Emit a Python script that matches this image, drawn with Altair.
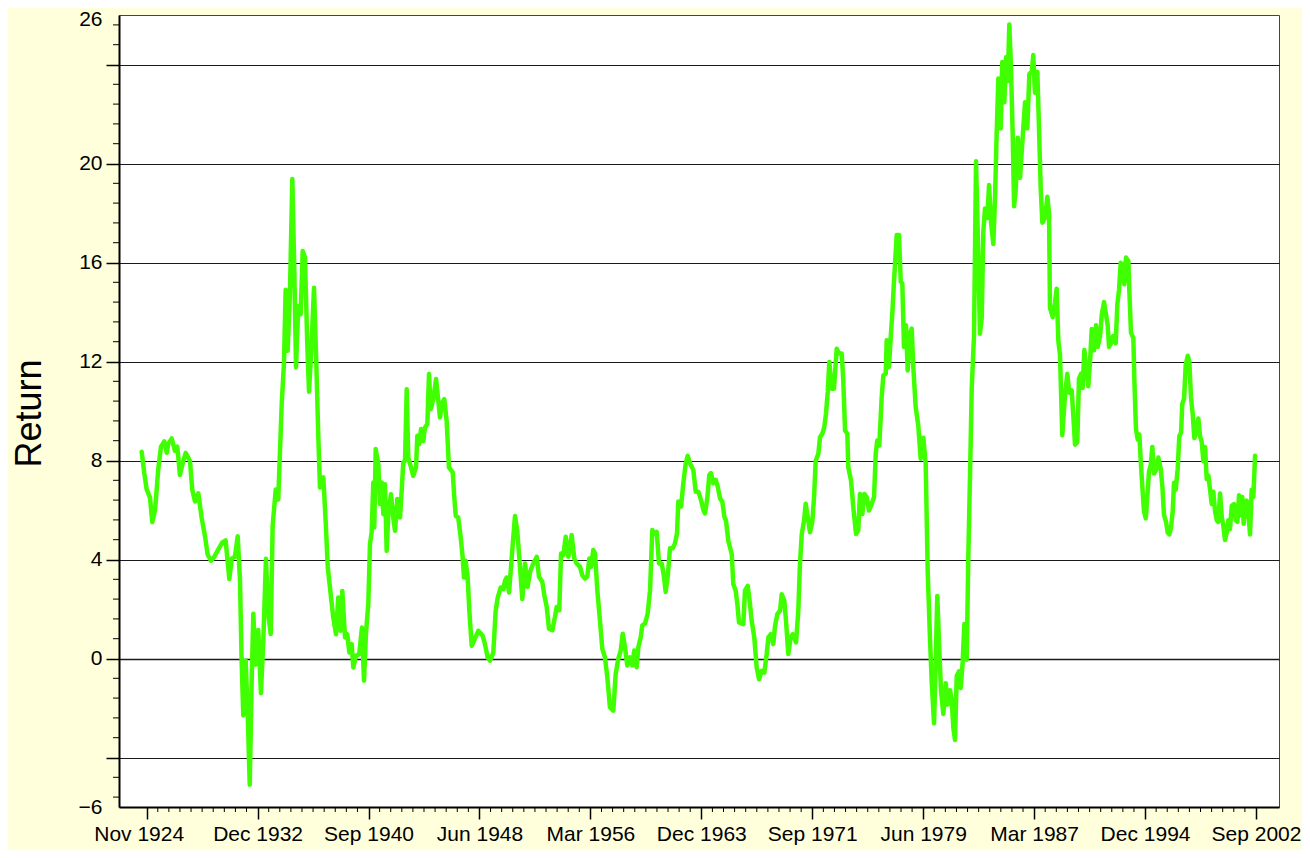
import altair as alt
import pandas as pd

# month offsets from the first labelled tick (Nov 1924 = 0), and return values
months = [
    -4.2, -2.0, 0, 2.8, 4.7, 7.0, 8.4, 9.7, 12.0, 14.8, 16.8, 18.1, 21.0, 23.7, 25.7, 27.9, 29.8, 32.7, 36.3, 38.2,
    40.5, 43.3, 46.1, 48.9, 51.1, 53.9, 56.7, 59.5, 63.4, 66.2, 69.3, 71.3, 74.0, 76.3, 78.2, 79.6, 81.0, 83.0, 84.7, 86.4,
    88.0, 89.4, 91.4, 93.6, 95.8, 97.8, 100.0, 101.9, 104.0, 105.6, 108.2, 110.3, 113.2, 115.1, 116.5, 118.2, 120.1, 122.1, 123.7, 125.2,
    127.1, 129.1, 130.8, 132.7, 134.6, 136.1, 138.3, 140.3, 142.2, 143.9, 145.3, 148.1, 150.1, 151.8,
    156.4, 158.7, 160.6, 162.6, 164.0, 166.3, 168.2, 169.9, 171.9, 173.2, 175.5, 178.2, 180.5, 182.2, 183.9, 185.8, 187.2, 188.6, 190.0, 190.8,
    192.0, 194.2, 195.6, 197.0, 198.4, 199.8, 201.2, 202.6, 204.8, 206.7, 208.2, 210.1, 212.4, 213.8, 215.1, 216.6, 218.0, 219.3, 221.3, 223.5,
    225.8, 226.9, 228.5, 230.0, 231.9, 233.3, 235.3, 236.7, 238.1, 240.3, 242.6, 244.5, 245.9, 247.8, 249.5, 251.5, 253.4, 256.6, 257.9, 259.1,
    261.2, 263.3, 264.9, 266.0, 267.4, 269.1, 270.5, 272.5, 274.4, 278.0, 281.7, 283.6, 285.9, 287.8, 290.6, 292.6, 294.3, 296.8, 299.0, 300.4,
    301.8, 303.8, 305.2, 306.9, 308.8, 310.7, 313.0, 314.9, 316.3,
    317.2, 319.4, 321.4, 324.1, 327.0, 328.9, 331.7, 333.4, 335.4, 337.3, 340.1, 342.3, 343.7, 345.9, 347.4, 349.3, 351.3, 353.5, 356.3, 358.5,
    360.5, 363.3, 365.2, 367.5, 369.4, 371.1, 372.5, 374.4, 375.9, 377.8, 380.0, 382.0, 384.2, 386.2, 388.4, 391.2, 393.2, 395.4, 397.4, 399.1,
    401.0, 402.9, 405.2, 407.1, 408.8, 410.8, 412.2, 414.2, 415.5, 417.8, 420.0, 422.0, 423.9, 426.2, 427.6, 429.5, 431.8, 433.7, 435.1, 436.8,
    438.7, 441.0, 442.9, 444.6, 445.7, 448.0, 449.9, 451.9, 453.6, 455.5, 458.3, 460.3, 462.5, 464.7, 466.7, 468.1, 470.0, 471.7, 473.1, 475.0,
    477.1, 478.7, 480.7, 482.6, 484.3,
    485.7, 487.6, 490.5, 491.8, 493.8, 495.2, 496.6, 500.2, 501.6, 503.9, 505.8, 507.2, 509.4, 511.4, 513.4, 515.6, 517.8, 519.8, 521.2, 523.2,
    525.3, 526.8, 528.7, 531.0, 532.4, 534.6, 536.0, 537.9, 539.9, 541.6, 544.4, 546.3, 547.7, 549.2, 551.1, 552.5, 554.7, 556.1, 558.0, 559.5,
    560.9, 563.1, 564.5, 566.4, 568.1, 569.5, 571.0, 572.3, 574.3, 576.2, 578.5, 580.4, 582.7, 584.0, 585.5, 587.4, 588.2, 590.5, 592.4, 594.7,
    596.6, 598.0, 600.0, 601.6, 603.6, 605.6, 607.8, 609.8, 611.2, 612.5, 614.2, 616.2, 617.6, 619.6, 620.4, 622.3, 623.8, 625.1, 626.5, 628.8,
    630.7, 632.2, 633.5, 634.9, 636.6, 638.0, 640.0, 641.4, 642.7, 644.7,
    646.9, 648.9, 651.1, 653.1, 654.8, 656.7, 658.1, 660.1, 661.5, 662.8, 664.3, 665.9, 667.9, 669.9, 671.6, 673.5, 674.9, 676.3, 677.7, 679.1,
    681.0, 682.5, 684.1, 685.5, 687.5, 688.8, 690.3, 691.7, 693.6, 695.3, 697.2, 698.6, 700.1, 701.4, 702.8, 704.8, 706.2, 707.9, 709.8, 711.2,
    712.6, 714.0, 716.0, 717.3, 719.0, 720.4, 721.9, 723.2, 724.6, 726.1, 727.2, 728.6, 730.3, 732.2, 733.6, 734.9, 736.4, 738.3, 740.0, 742.0,
    743.3, 744.7, 746.7, 748.1, 749.5, 750.9, 753.1, 755.1, 756.5, 757.3, 759.6, 761.5, 762.9, 764.3, 765.7, 767.6, 769.9, 771.8, 773.5, 775.5,
    776.9, 778.3, 780.2, 781.6, 783.3, 784.7, 786.1,
    788.1, 789.4, 790.9, 792.3, 794.2, 795.9, 797.3, 799.3, 800.7, 802.6, 804.3, 805.7, 806.8, 808.5, 810.2, 812.4, 813.8, 815.2, 816.6, 818.3,
    819.6, 821.0, 823.0, 823.8, 825.2, 827.2, 828.0, 829.4, 830.9, 832.2, 833.4, 834.7, 836.1, 837.6, 838.9, 840.3, 841.8, 843.1, 844.5, 846.2,
    848.1, 850.1, 851.5, 852.9, 854.6, 856.0, 857.4, 858.8, 860.2, 861.3, 862.7, 864.4, 865.7, 867.2, 868.2, 869.7, 871.1, 872.8, 874.1, 875.5,
    877.0, 878.3, 879.7, 881.7, 883.1, 884.5, 885.9, 887.3, 888.7, 890.1, 891.5, 892.9, 894.2, 895.7, 897.1, 898.4, 899.9, 901.3, 902.6, 904.0,
    905.5, 906.8, 908.2, 909.7, 911.6, 913.0, 914.4, 915.8, 917.2, 918.5, 919.7, 920.8, 922.2, 923.6, 925.0, 926.4, 927.8, 929.2,
]
returns = [
    8.35, 7.49, 6.83, 6.5, 5.51, 6.0, 6.83, 7.65, 8.56, 8.77, 8.31, 8.67, 8.89, 8.39, 8.56, 7.41, 7.82, 8.31, 7.98, 6.83,
    6.34, 6.67, 5.68, 4.94, 4.20, 3.95, 4.11, 4.36, 4.69, 4.77, 3.21, 4.03, 4.11, 4.94, 3.21, -0.08, -2.30, -0.08, -2.22, -5.10,
    -0.99, 1.81, -0.25, 1.15, -1.40, 0.74, 4.03, 1.81, 0.99, 5.35, 6.83, 6.42, 10.29, 11.93, 14.90, 12.43, 14.73, 19.37, 15.88, 11.77,
    14.24, 13.91, 16.46, 16.21, 12.76, 10.78, 12.76, 14.98, 11.93, 8.97, 6.91, 7.32, 5.51, 3.70,
    1.66, 0.98, 2.46, 1.12, 2.73, 0.85, 0.98, 0.24, 0.58, -0.36, 0.11, 0.18, 1.25, -0.90, 1.05, 2.20, 4.62, 5.09, 7.11, 5.29,
    8.46, 7.85, 6.24, 7.11, 5.83, 7.04, 4.35, 5.83, 6.64, 5.70, 5.16, 6.44, 5.70, 6.77, 7.92, 7.99, 10.88, 8.12, 7.78, 7.38,
    7.72, 9.00, 8.66, 9.27, 8.79, 9.33, 9.47, 11.49, 10.07, 10.48, 11.29, 10.41, 9.74, 10.34, 10.48, 9.60, 7.72, 7.52, 6.51, 5.76,
    5.70, 4.89, 4.08, 3.27, 3.95, 3.27, 1.93, 0.51, 0.71, 1.12, 0.92, 0.58, 0.04, -0.09, 0.24, 1.93, 2.46, 2.87, 2.80, 3.14,
    3.27, 2.67, 3.54, 4.62, 5.76, 5.16, 3.68, 2.40, 3.27,
    3.84, 2.89, 3.50, 3.84, 4.11, 3.30, 3.09, 2.55, 2.08, 1.20, 1.14, 1.68, 2.08, 1.95, 4.24, 4.18, 4.92, 4.11, 4.99, 4.04,
    3.84, 3.70, 3.36, 3.23, 3.30, 4.04, 3.70, 4.38, 4.24, 2.76, 1.54, 0.39, 0.05, -0.76, -1.97, -2.11, -0.62, -0.01, 0.32, 1.00,
    0.46, -0.28, 0.05, -0.28, 0.32, -0.35, 0.46, 0.86, 1.34, 1.41, 1.81, 2.76, 5.19, 5.05, 5.12, 3.84, 3.84, 3.30, 2.69, 3.30,
    4.45, 4.45, 4.65, 5.05, 6.34, 6.14, 7.08, 7.89, 8.19, 7.89, 7.62, 6.74, 6.74, 6.41, 6.00, 5.86, 6.47, 7.42, 7.49, 7.08,
    7.22, 6.95, 6.47, 6.34, 5.73,
    5.57, 4.76, 4.22, 3.01, 2.74, 2.20, 1.46, 1.39, 2.74, 2.94, 2.20, 1.52, 0.85, -0.36, -0.84, -0.50, -0.57, 0.18, 0.85, 0.98,
    0.58, 1.32, 1.79, 1.93, 2.60, 2.33, 1.52, 0.18, 0.85, 0.98, 0.65, 1.93, 3.82, 5.03, 5.57, 6.25, 5.57, 5.10, 5.50, 6.52,
    8.00, 8.27, 8.94, 9.08, 9.35, 9.89, 10.77, 11.98, 10.90, 10.90, 12.52, 12.32, 12.32, 11.24, 9.21, 9.08, 7.73, 7.19, 6.11, 5.03,
    5.17, 6.65, 5.84, 6.65, 6.52, 5.98, 6.25, 6.52, 8.27, 8.81, 8.61, 10.56, 11.44, 11.51, 12.86, 11.78, 12.99, 13.94, 15.22, 17.11,
    17.11, 15.22, 15.15, 12.59, 13.46, 11.64, 13.13, 13.33, 11.78, 10.16,
    9.40, 8.07, 8.92, 7.87, 3.49, 0.81, -0.90, -2.62, -0.14, 2.53, 0.63, -1.28, -2.24, -1.00, -1.86, -1.28, -1.67, -2.81, -3.29, -0.71,
    -0.52, -1.19, -0.14, 1.39, -0.05, 4.06, 7.49, 10.93, 13.03, 20.09, 16.27, 13.12, 13.79, 17.22, 18.18, 17.80, 19.13, 17.61, 16.75, 18.56,
    21.23, 23.43, 21.42, 24.10, 22.47, 24.29, 23.33, 25.62, 23.90, 21.04, 18.27, 18.94, 21.04, 19.42, 20.47, 21.42, 22.47, 21.42, 23.62, 23.71,
    24.38, 22.86, 23.71, 21.42, 19.04, 17.61, 17.80, 18.66, 17.99, 14.17, 13.79, 14.37, 14.94, 12.84, 12.26, 9.02, 10.64, 11.50, 10.74, 10.83,
    9.78, 8.64, 8.74, 11.31, 11.50, 10.93, 12.46,
    11.58, 11.00, 12.01, 13.31, 12.45, 13.46, 12.59, 13.03, 13.89, 14.40, 13.89, 13.46, 12.59, 12.74, 13.03, 12.74, 14.32, 14.90, 15.99, 15.91,
    15.12, 16.20, 16.06, 14.90, 13.17, 12.95, 11.29, 9.27, 8.84, 9.05, 7.97, 6.96, 5.95, 5.66, 6.53, 7.54, 7.83, 8.55, 7.47, 7.61,
    8.12, 7.68, 6.96, 5.80, 5.52, 5.08, 5.01, 5.30, 5.95, 7.10, 6.82, 7.68, 8.98, 9.13, 10.28, 10.50, 11.87, 12.23, 12.01, 10.57,
    9.85, 8.91, 9.13, 9.70, 8.98, 8.77, 7.97, 8.55, 7.25, 7.39, 6.82, 6.24, 6.74, 5.95, 5.59, 5.52, 6.67, 5.73, 5.37, 4.79,
    5.08, 5.59, 5.23, 6.17, 6.24, 5.59, 5.52, 6.60, 5.80, 6.53, 5.44, 6.02, 6.38, 5.95, 5.01, 6.82, 6.53, 8.19,
]

tick_months = [0, 93, 186, 279, 372, 465, 558, 651, 744, 837, 930]
tick_labels = ["Nov 1924", "Dec 1932", "Sep 1940", "Jun 1948", "Mar 1956", "Dec 1963",
               "Sep 1971", "Jun 1979", "Mar 1987", "Dec 1994", "Sep 2002"]
y_major = [-6, -4, 0, 4, 8, 12, 16, 20, 24, 26]
y_minor = [round(-5.6 + 0.8 * i, 1) for i in range(40) if round((-5.6 + 0.8 * i) % 4, 1) not in (0.0, 4.0)]
x_minor = [round(9.3 * i, 1) for i in range(101) if i % 10 != 0]

df = pd.DataFrame({"month": months, "ret": returns})
ymin_df = pd.DataFrame({"month": [0.0] * len(y_minor), "ret": y_minor})
xmin_df = pd.DataFrame({"month": x_minor, "ret": [0.0] * len(x_minor)})

FONT = "Liberation Sans"
xs = alt.Scale(domain=[-23.2, 949.3], nice=False, zero=False)
ys = alt.Scale(domain=[-6, 26], nice=False, zero=False)

label_arr = "[" + ",".join("'" + t + "'" for t in tick_labels) + "]"

x_axis = alt.Axis(
    values=tick_months,
    labelExpr=label_arr + "[round(datum.value / 93)]",
    title=None, grid=False,
    tickSize=12, tickColor="black", tickWidth=1.5,
    domainColor="black", domainWidth=2,
    labelFont=FONT, labelFontSize=21, labelColor="black",
    labelPadding=4, labelFlush=False, labelOverlap=False,
    labelOffset={"condition": {"test": "datum.value == 0", "value": -8}, "value": 0},
)

y_axis = alt.Axis(
    values=y_major,
    labelExpr="(datum.value == 24 || datum.value == -4) ? '' : datum.label",
    grid=True,
    gridColor={"condition": {"test": "datum.value == -6 || datum.value == 26", "value": "transparent"}, "value": "#1a1a1a"},
    gridWidth={"condition": {"test": "datum.value == 0", "value": 1.6}, "value": 1},
    tickSize=13, tickWidth=1.5,
    tickColor={"condition": {"test": "datum.value == -6 || datum.value == 26", "value": "transparent"}, "value": "black"},
    domainColor="black", domainWidth=2,
    labelFont=FONT, labelFontSize=21, labelColor="black",
    labelPadding=4, labelFlush=False, labelOverlap=False,
    labelOffset={"condition": {"test": "datum.value == 26", "value": 4}, "value": 0},
    title="Return", titleFont=FONT, titleFontSize=36, titleFontWeight="normal", titleColor="black",
    titleAngle=270, titleAlign="center", titleBaseline="middle", titleX=-90, titleY=398,
)

X = alt.X("month:Q", scale=xs, axis=x_axis)
Y = alt.Y("ret:Q", scale=ys, axis=y_axis)

line = alt.Chart(df).mark_line(color="#40FF00", strokeWidth=4.5, strokeJoin="round", strokeCap="round").encode(
    x=X, y=Y,
)
xminor = alt.Chart(xmin_df).mark_rule(color="black", strokeWidth=1).encode(
    x=X, y=alt.value(792), y2=alt.value(797),
)
yminor = alt.Chart(ymin_df).mark_rule(color="black", strokeWidth=1).encode(
    y=Y, x=alt.value(-6), x2=alt.value(0),
)

chart = alt.layer(line, xminor, yminor).properties(
    width=1160, height=792,
    background="#FFFFDC",
    padding={"left": 111, "top": 7, "right": 23, "bottom": 43},
    autosize=alt.AutoSizeParams(type="none"),
).configure_view(fill="white", stroke="#444444", strokeWidth=1)

chart.save("out.html", embed_options={"renderer": "svg", "actions": False})
